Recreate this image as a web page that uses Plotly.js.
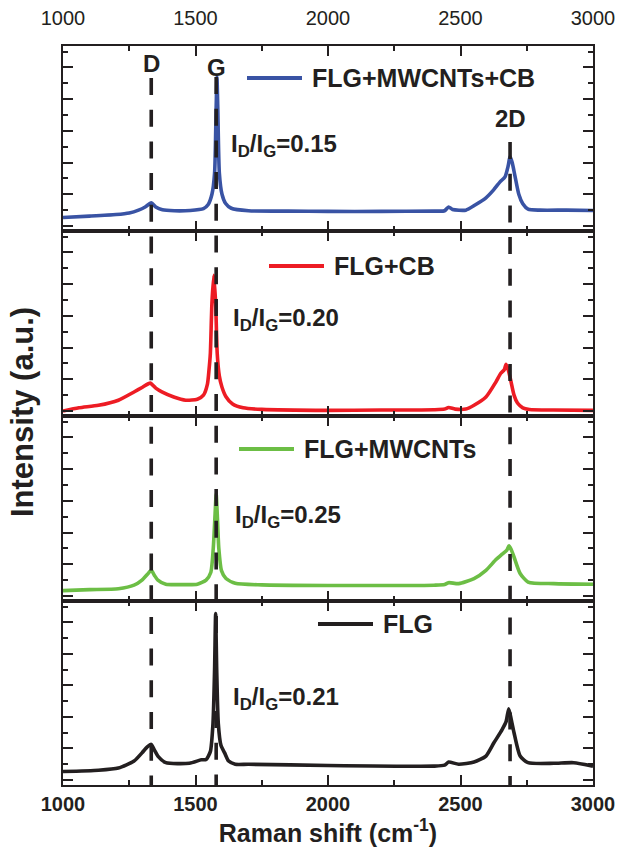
<!DOCTYPE html>
<html>
<head>
<meta charset="utf-8">
<script src="https://cdn.plot.ly/plotly-3.0.1.min.js"></script>
<style>
html,body{margin:0;padding:0;background:#fff;}
#chart{width:621px;height:855px;}
</style>
</head>
<body>
<div id="chart"></div>
<script>
// ---- data (intensity in arbitrary units) ----
const xBlue = [1000,1100,1200,1250,1285,1310,1333,1350,1375,1420,1480,1530,1548,1562,1572,1578,1581,1584,1590,1600,1613,1635,1700,1850,2000,2200,2400,2440,2455,2470,2520,2555,2595,2625,2650,2668,2680,2687,2695,2705,2720,2735,2755,2800,2900,3000];
const yBlue = [0.27,0.31,0.36,0.41,0.5,0.6,0.73,0.6,0.51,0.48,0.49,0.55,0.68,1.0,1.67,3.76,4.69,3.76,1.67,1.0,0.72,0.56,0.48,0.47,0.46,0.46,0.47,0.48,0.6,0.52,0.5,0.66,0.88,1.14,1.4,1.55,1.9,2.2,2.0,1.6,1.0,0.7,0.53,0.5,0.5,0.49];

const xRed = [1000,1060,1134,1209,1268,1300,1329,1350,1373,1418,1463,1507,1530,1545,1551,1556,1562,1569,1576,1582,1590,1600,1615,1640,1680,1750,2000,2200,2400,2440,2455,2480,2520,2551,2596,2634,2652,2665,2672,2680,2690,2702,2715,2735,2760,2850,3000];
const yRed = [0.0,0.1,0.18,0.34,0.6,0.75,0.88,0.72,0.6,0.44,0.34,0.37,0.5,0.85,1.3,1.81,3.4,4.28,3.4,1.81,1.1,0.75,0.45,0.22,0.1,0.05,0.02,0.03,0.04,0.06,0.11,0.06,0.06,0.18,0.44,0.92,1.19,1.3,1.47,1.3,0.95,0.5,0.25,0.1,0.05,0.03,0.02];

const xGreen = [1000,1100,1209,1268,1298,1318,1333,1345,1358,1388,1450,1507,1540,1558,1567,1574,1578,1582,1588,1598,1615,1650,1750,2000,2200,2400,2440,2455,2493,2551,2596,2634,2657,2675,2683,2692,2702,2725,2755,2852,3000];
const yGreen = [0.17,0.2,0.23,0.34,0.5,0.68,0.81,0.65,0.5,0.37,0.36,0.37,0.5,0.75,1.5,2.6,3.22,2.6,1.5,0.8,0.55,0.4,0.35,0.33,0.33,0.34,0.36,0.42,0.39,0.55,0.81,1.15,1.32,1.45,1.58,1.45,1.23,0.71,0.44,0.39,0.37];

const xBlack = [1000,1134,1209,1268,1298,1318,1333,1345,1358,1388,1477,1522,1540,1556,1566,1572,1576,1580,1586,1596,1610,1625,1650,1700,2000,2400,2440,2455,2493,2551,2596,2626,2657,2672,2682,2692,2702,2725,2755,2852,2927,3000];
const yBlack = [0.27,0.31,0.38,0.6,0.86,1.05,1.13,0.95,0.76,0.55,0.53,0.64,0.65,0.9,1.8,3.5,5.28,3.5,1.8,1.1,0.86,0.6,0.5,0.5,0.46,0.44,0.47,0.57,0.5,0.57,0.76,1.18,1.6,1.85,2.26,1.9,1.5,0.76,0.55,0.53,0.55,0.44];

const seriesNames = ['FLG+MWCNTs+CB','FLG+CB','FLG+MWCNTs','FLG'];
const ratioLabels = ['I<sub>D</sub>/I<sub>G</sub>=0.15','I<sub>D</sub>/I<sub>G</sub>=0.20','I<sub>D</sub>/I<sub>G</sub>=0.25','I<sub>D</sub>/I<sub>G</sub>=0.21'];
const peakNames = ['D','G','2D'];
const peakPositions = [1333, 1578, 2687];
const xTickVals = [1000,1500,2000,2500,3000];

// ---- styling ----
const colors = ['#3953a4','#ed1c24','#6cbe45','#231f20'];
const ink = '#231f20';
const FONT = 'Arial, "Liberation Sans", sans-serif';
const xs = [xBlue,xRed,xGreen,xBlack];
const ys = [yBlue,yRed,yGreen,yBlack];
const axIds = ['','2','3','4'];

const traces = xs.map((x,i)=>({
  x: x, y: ys[i], type:'scatter', mode:'lines', name: seriesNames[i],
  xaxis:'x'+axIds[i], yaxis:'y'+axIds[i],
  line:{color:colors[i], width:3.6, shape:'spline', smoothing:0.6}, showlegend:false, hoverinfo:'skip'
}));

// plot area geometry (px) : left 63, right 593, top 46, bottom 785
const L=63, R=593, T=46, B=785, W=R-L, H=B-T;
const px2x = p => (p-L)/W;
const py2y = p => 1-(p-T)/H;
const bounds = [46,231,416,601,785];

function xAxis(i){
  const a = {
    range:[1000,3000], tickvals:xTickVals, ticks:'inside', ticklen:10, tickwidth:2, tickcolor:ink,
    showline:true, linewidth:2, linecolor:ink, mirror:'ticks', showgrid:false, zeroline:false,
    anchor:'y'+axIds[i], showticklabels:false,
    minor:{tick0:1000, dtick:250, ticks:'inside', ticklen:5, tickwidth:2, tickcolor:ink, showgrid:false}
  };
  if(i>0) a.matches='x';
  if(i===0){ a.side='top'; a.showticklabels=true; a.ticklabelstandoff=11; a.tickfont={family:FONT,size:20,color:ink}; }
  if(i===3){ a.showticklabels=true; a.tickfont={family:FONT,size:20,color:ink,weight:'bold'};
    a.title={text:'Raman shift (cm<sup>-1</sup>)', font:{family:FONT,size:25,color:ink,weight:'bold'}, standoff:9}; }
  return a;
}
function yAxis(i){
  return {
    domain:[py2y(bounds[i+1]), py2y(bounds[i])], range:[-0.158,5.678], tick0:0, dtick:1,
    ticks:'inside', ticklen:10, tickwidth:2, tickcolor:ink, showticklabels:false,
    showline:true, linewidth:2, linecolor:ink, mirror:'ticks', showgrid:false, zeroline:false,
    anchor:'x'+axIds[i],
    minor:{dtick:0.5, ticks:'inside', ticklen:5, tickwidth:2, tickcolor:ink, showgrid:false}
  };
}

const layout = {
  width:621, height:855, margin:{l:L, r:621-R, t:T, b:855-B},
  paper_bgcolor:'#fff', plot_bgcolor:'#fff', showlegend:false,
  font:{family:FONT, color:ink},
  shapes:[], annotations:[]
};
for(let i=0;i<4;i++){ layout['xaxis'+axIds[i]] = xAxis(i); layout['yaxis'+axIds[i]] = yAxis(i); }

// dashed peak markers
const dashTops = [78, 77, 142];
peakPositions.forEach((p,k)=>{
  layout.shapes.push({type:'line', xref:'x', yref:'paper', x0:p, x1:p, y0:py2y(dashTops[k]), y1:py2y(B),
    line:{color:ink, width:3.6, dash:'17px,14.7px'}, layer:'above'});
});
const peakLabelY = [63.5, 67.5, 119];
peakNames.forEach((n,k)=>{
  layout.annotations.push({text:'<b>'+n+'</b>', xref:'x', yref:'paper', x:peakPositions[k], y:py2y(peakLabelY[k]),
    showarrow:false, xanchor:'center', yanchor:'middle', font:{family:FONT,size:24,color:ink}});
});

// per-panel legend samples and labels
const legY = [78, 266, 449, 624];
const legX0 = [247, 269, 239, 318];
legY.forEach((yy,i)=>{
  layout.shapes.push({type:'line', xref:'paper', yref:'paper', x0:px2x(legX0[i]), x1:px2x(legX0[i]+55), y0:py2y(yy), y1:py2y(yy),
    line:{color:colors[i], width:4}});
  layout.annotations.push({text:'<b>'+seriesNames[i]+'</b>', xref:'paper', yref:'paper', x:px2x(legX0[i]+63), y:py2y(yy),
    showarrow:false, xanchor:'left', yanchor:'middle', font:{family:FONT,size:25,color:ink}});
});

// I_D/I_G ratio labels
const ratioY = [145, 318, 515, 697];
const ratioX = [229, 231, 233, 231];
ratioY.forEach((yy,i)=>{
  layout.annotations.push({text:'<b>'+ratioLabels[i]+'</b>', xref:'paper', yref:'paper', x:px2x(ratioX[i]), y:py2y(yy+1),
    showarrow:false, xanchor:'left', yanchor:'middle', font:{family:FONT,size:24,color:ink}});
});

// y axis title
layout.annotations.push({text:'<b>Intensity (a.u.)</b>', xref:'paper', yref:'paper', x:px2x(22), y:py2y(412),
  showarrow:false, xanchor:'center', yanchor:'middle', textangle:-90, font:{family:FONT,size:31,color:ink}});

Plotly.newPlot('chart', traces, layout, {displayModeBar:false, staticPlot:true});
</script>
</body>
</html>
